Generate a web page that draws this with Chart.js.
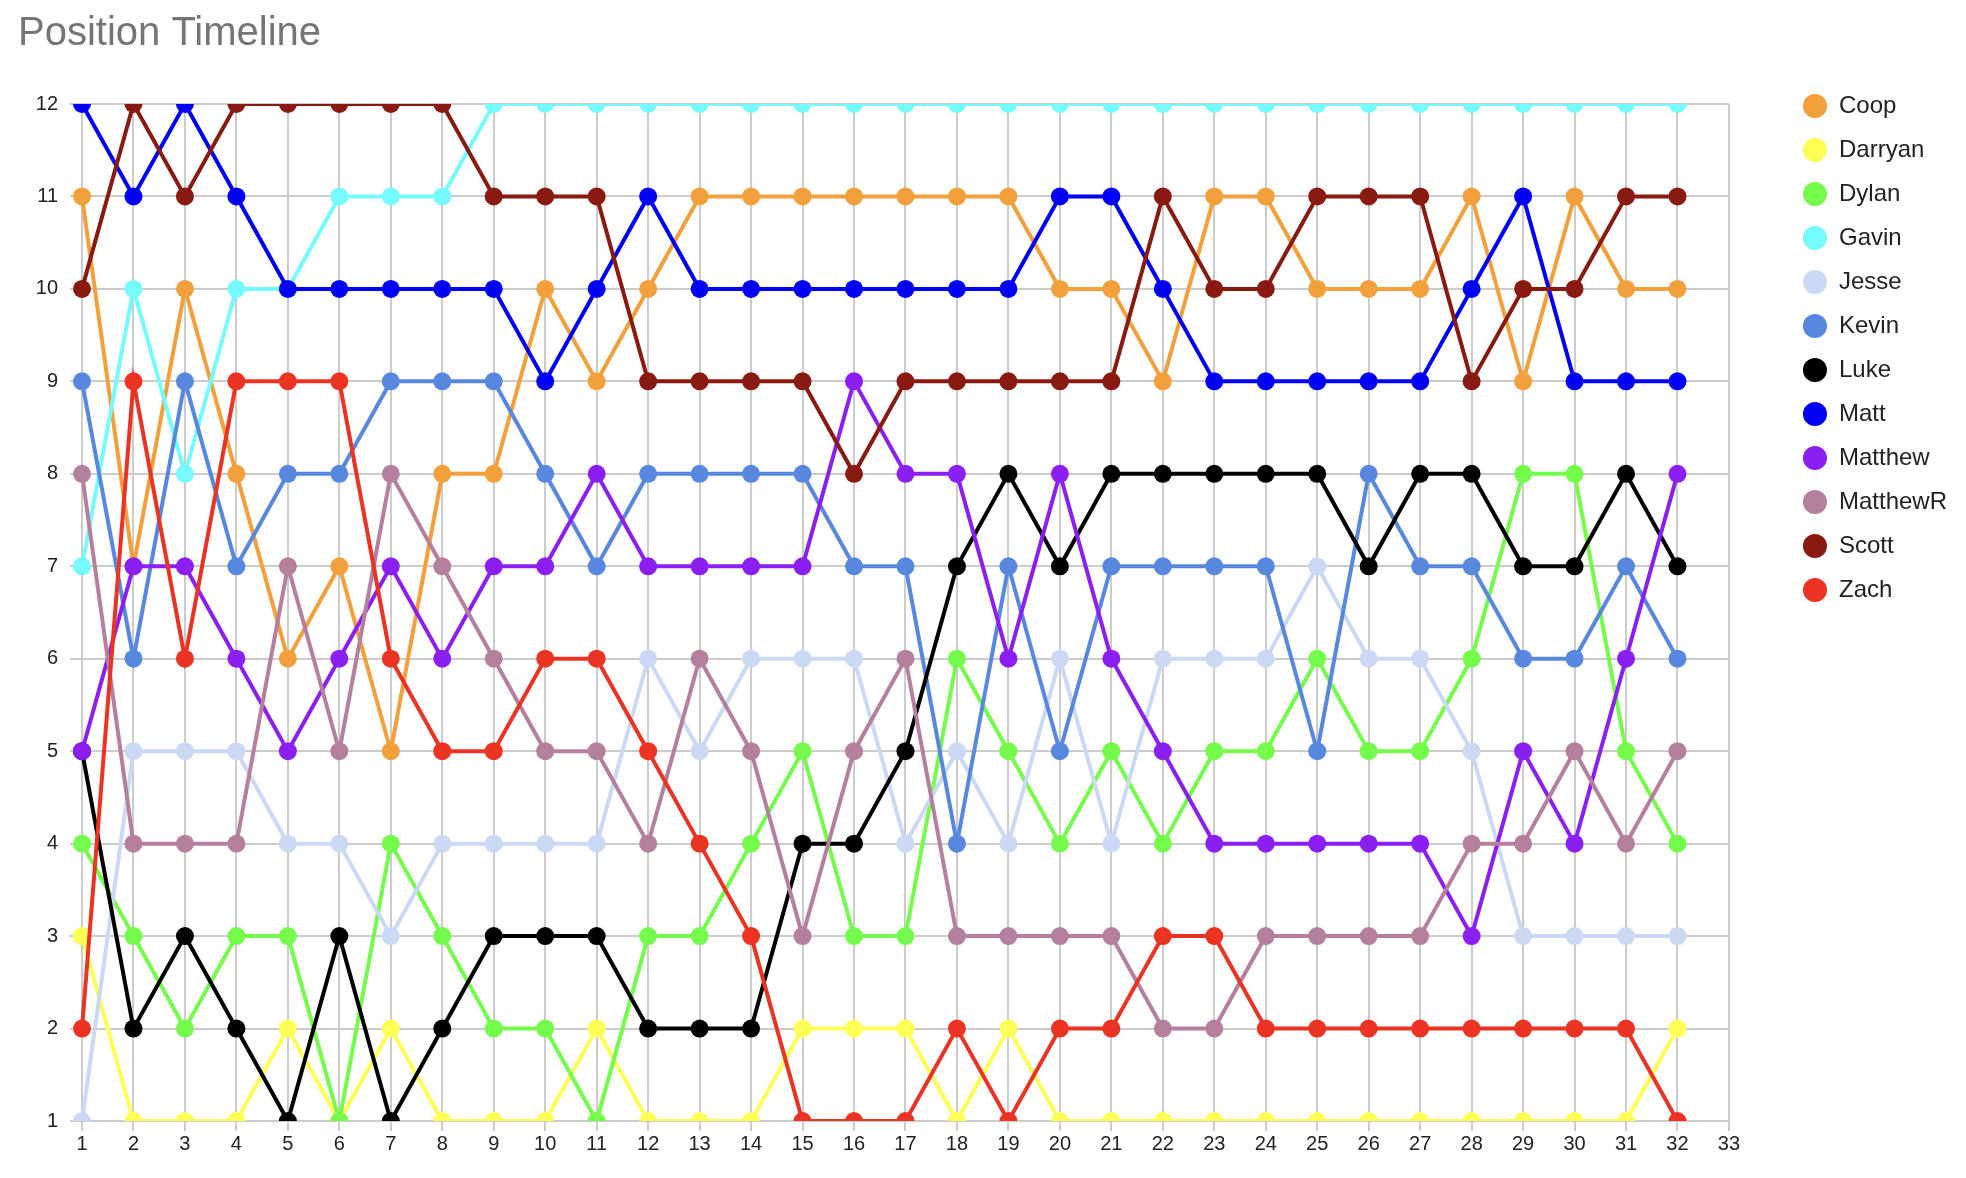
<!DOCTYPE html>
<html>
<head>
<meta charset="UTF-8">
<title>Position Timeline</title>
<style>
	body {margin:0; background:#fff;}
	#wrap {width:1966px; height:1178px; position:relative;}
</style>
</head>
<body>
<div id="wrap">
	<canvas id="positionChart"></canvas>
</div>
<script src="https://cdn.jsdelivr.net/npm/chart.js@4.4.0/dist/chart.umd.min.js"></script>
<script>
	// weeks on the x axis (33 is only an axis label, no data)
	const weeks = ['1','2','3','4','5','6','7','8','9','10','11','12','13','14','15','16','17',
		'18','19','20','21','22','23','24','25','26','27','28','29','30','31','32','33'];
	const yTicks = [1,2,3,4,5,6,7,8,9,10,11,12];

	const names = ['Coop','Darryan','Dylan','Gavin','Jesse','Kevin','Luke','Matt','Matthew','MatthewR','Scott','Zach'];
	const colors = ['#F1A03B','#FFFF55','#75FB4C','#75FBFD','#CBD9F4','#5887E0','#000000','#0000F5','#8B1EF1','#B57F9E','#881A11','#EA3323'];

	// position per week
	const coop     = [11,7,10,8,6,7,5,8,8,10,9,10,11,11,11,11,11,11,11,10,10,9,11,11,10,10,10,11,9,11,10,10];
	const darryan  = [3,1,1,1,2,1,2,1,1,1,2,1,1,1,2,2,2,1,2,1,1,1,1,1,1,1,1,1,1,1,1,2];
	const dylan    = [4,3,2,3,3,1,4,3,2,2,1,3,3,4,5,3,3,6,5,4,5,4,5,5,6,5,5,6,8,8,5,4];
	const gavin    = [7,10,8,10,10,11,11,11,12,12,12,12,12,12,12,12,12,12,12,12,12,12,12,12,12,12,12,12,12,12,12,12];
	const jesse    = [1,5,5,5,4,4,3,4,4,4,4,6,5,6,6,6,4,5,4,6,4,6,6,6,7,6,6,5,3,3,3,3];
	const kevin    = [9,6,9,7,8,8,9,9,9,8,7,8,8,8,8,7,7,4,7,5,7,7,7,7,5,8,7,7,6,6,7,6];
	const luke     = [5,2,3,2,1,3,1,2,3,3,3,2,2,2,4,4,5,7,8,7,8,8,8,8,8,7,8,8,7,7,8,7];
	const matt     = [12,11,12,11,10,10,10,10,10,9,10,11,10,10,10,10,10,10,10,11,11,10,9,9,9,9,9,10,11,9,9,9];
	const matthew  = [5,7,7,6,5,6,7,6,7,7,8,7,7,7,7,9,8,8,6,8,6,5,4,4,4,4,4,3,5,4,6,8];
	const matthewR = [8,4,4,4,7,5,8,7,6,5,5,4,6,5,3,5,6,3,3,3,3,2,2,3,3,3,3,4,4,5,4,5];
	const scott    = [10,12,11,12,12,12,12,12,11,11,11,9,9,9,9,8,9,9,9,9,9,11,10,10,11,11,11,9,10,10,11,11];
	const zach     = [2,9,6,9,9,9,6,5,5,6,6,5,4,3,1,1,1,2,1,2,2,3,3,2,2,2,2,2,2,2,2,1];

	const series = [coop, darryan, dylan, gavin, jesse, kevin, luke, matt, matthew, matthewR, scott, zach];

	const datasets = series.map(function(values, i){
		return {
			label: names[i],
			data: values,
			borderColor: colors[i],
			backgroundColor: colors[i],
			pointBackgroundColor: colors[i],
			pointBorderColor: colors[i],
			pointBorderWidth: 0,
			pointRadius: 9,
			pointHoverRadius: 9,
			borderWidth: 4,
			tension: 0,
			order: series.length - 1 - i, // later series drawn on top
			clip: {left: false, right: false, top: 0, bottom: 0}
		};
	});

	const gridColor = '#cccccc';
	const tickFont = {family: 'Liberation Sans', size: 20};

	new Chart(document.getElementById('positionChart'), {
		type: 'line',
		data: {labels: weeks, datasets: datasets},
		options: {
			responsive: true,
			maintainAspectRatio: false,
			animation: false,
			layout: {padding: {left: 18, right: 9, top: 0, bottom: 21}},
			plugins: {
				title: {
					display: true,
					text: 'Position Timeline',
					align: 'start',
					color: '#757575',
					font: {family: 'Liberation Sans', size: 40, weight: 'normal'},
					padding: {top: 10, bottom: 46}
				},
				legend: {
					position: 'right',
					align: 'start',
					title: {display: true, text: '', padding: 0, font: {size: 10, lineHeight: 7.4}},
					labels: {
						usePointStyle: true,
						pointStyle: 'circle',
						boxHeight: 17,
						padding: 20,
						color: '#222222',
						font: {family: 'Liberation Sans', size: 24},
						sort: function(a, b){ return a.datasetIndex - b.datasetIndex; }
					}
				},
				tooltip: {enabled: false}
			},
			scales: {
				x: {
					type: 'category',
					offset: false,
					grid: {color: gridColor, lineWidth: 2, tickLength: 10, tickColor: gridColor},
					border: {color: gridColor, width: 2},
					ticks: {font: tickFont, color: '#222222', padding: 1, maxRotation: 0, autoSkip: false}
				},
				y: {
					min: 1,
					max: 12,
					afterFit: function(scale){ scale.width = 64; },
					afterBuildTicks: function(scale){ scale.ticks = yTicks.map(function(v){ return {value: v}; }); },
					grid: {color: gridColor, lineWidth: 2, tickLength: 12, tickColor: gridColor},
					border: {color: gridColor, width: 2},
					ticks: {font: tickFont, color: '#222222', padding: 12}
				},
				gapRight: {
					type: 'linear',
					position: 'right',
					grid: {display: false},
					border: {display: false},
					ticks: {display: false},
					afterFit: function(scale){ scale.width = 54; }
				}
			}
		}
	});
</script>
</body>
</html>
